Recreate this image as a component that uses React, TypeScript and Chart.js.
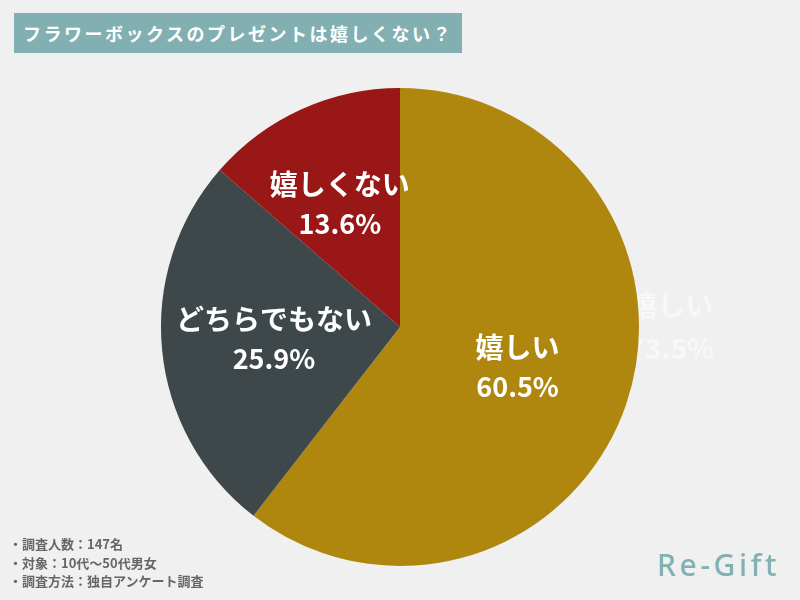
import React, { useEffect, useRef } from "react";
import { Chart, registerables } from "chart.js";

Chart.register(...registerables);

const categories = ["嬉しい", "どちらでもない", "嬉しくない"];
const values = [60.5, 25.9, 13.6];
const valueLabels = ["60.5%", "25.9%", "13.6%"];
const colors = ["#b0870e", "#3e4749", "#9a1717"];
const labelRadius = [0.52, 0.53, 0.57];
const labelAngleShift = [0, 0, -0.03];
const ghostLabel = ["嬉しい", "73.5%"];
const titleText = "フラワーボックスのプレゼントは嬉しくない？";
const notes = ["・調査人数：147名", "・対象：10代〜50代男女", "・調査方法：独自アンケート調査"];
const brand = "Re-Gift";

const FONT = '"Noto Sans CJK JP", "Noto Sans", sans-serif';

const labelPlugin = {
  id: "sliceLabels",
  beforeDatasetsDraw(chart: any) {
    const meta = chart.getDatasetMeta(0);
    const arc = meta.data[0];
    if (!arc) return;
    const { x, y, outerRadius } = arc.getProps(["x", "y", "outerRadius"], true);
    const ctx = chart.ctx;
    ctx.save();
    ctx.fillStyle = "rgba(255,255,255,0.5)";
    ctx.font = `bold 28px ${FONT}`;
    ctx.textAlign = "center";
    ctx.textBaseline = "middle";
    const gx = x + outerRadius * 1.135;
    ctx.fillText(ghostLabel[0], gx, y - 22);
    ctx.fillText(ghostLabel[1], gx, y + 21);
    ctx.restore();
  },
  afterDatasetsDraw(chart: any) {
    const meta = chart.getDatasetMeta(0);
    const ctx = chart.ctx;
    ctx.save();
    ctx.fillStyle = "#ffffff";
    ctx.textAlign = "center";
    ctx.textBaseline = "middle";
    meta.data.forEach((el: any, i: number) => {
      const { x, y, startAngle, endAngle, outerRadius } = el.getProps(
        ["x", "y", "startAngle", "endAngle", "outerRadius"],
        true
      );
      const mid = (startAngle + endAngle) / 2 + labelAngleShift[i];
      const r = outerRadius * labelRadius[i];
      const cx = x + Math.cos(mid) * r;
      const cy = y + Math.sin(mid) * r;
      ctx.font = `bold 28px ${FONT}`;
      ctx.fillText(categories[i], cx, cy - 20);
      ctx.font = `bold 27px ${FONT}`;
      ctx.fillText(valueLabels[i], cx, cy + 19);
    });
    ctx.restore();
  },
};

export default function App() {
  const ref = useRef<HTMLCanvasElement | null>(null);
  useEffect(() => {
    if (!ref.current) return;
    const chart = new Chart(ref.current, {
      type: "pie",
      data: {
        labels: categories,
        datasets: [
          {
            data: values,
            backgroundColor: colors,
            borderWidth: 0,
          },
        ],
      },
      options: {
        animation: false,
        responsive: false,
        maintainAspectRatio: false,
        layout: { padding: { top: 88, bottom: 34, left: 0, right: 0 } },
        plugins: {
          legend: { display: false },
          tooltip: { enabled: false },
          title: { display: false },
        },
      },
      plugins: [labelPlugin],
    });
    return () => chart.destroy();
  }, []);

  return (
    <div
      style={{
        position: "fixed",
        left: 0,
        top: 0,
        width: 800,
        height: 600,
        background: "#f0f0f0",
        overflow: "hidden",
        fontFamily: FONT,
      }}
    >
      <canvas ref={ref} width={800} height={600} style={{ position: "absolute", left: 0, top: 0, width: 800, height: 600 }} />
      <div
        style={{
          position: "absolute",
          left: 14,
          top: 13,
          width: 448,
          height: 40,
          background: "#82afb2",
          color: "#ffffff",
          fontWeight: 700,
          fontSize: 18,
          letterSpacing: 2.5,
          lineHeight: "40px",
          textAlign: "center",
          whiteSpace: "nowrap",
        }}
      >
        {titleText}
      </div>
      <div
        style={{
          position: "absolute",
          left: 9,
          top: 535,
          color: "#666666",
          fontWeight: 700,
          fontSize: 13,
          lineHeight: "18.5px",
          whiteSpace: "nowrap",
        }}
      >
        {notes.map((n) => (
          <div key={n}>{n}</div>
        ))}
      </div>
      <div
        style={{
          position: "absolute",
          left: 657,
          top: 545,
          color: "#82b1b3",
          fontFamily: '"Noto Sans", sans-serif',
          fontWeight: 500,
          fontSize: 30,
          letterSpacing: 3.6,
          lineHeight: "40px",
          whiteSpace: "nowrap",
        }}
      >
        {brand}
      </div>
    </div>
  );
}
